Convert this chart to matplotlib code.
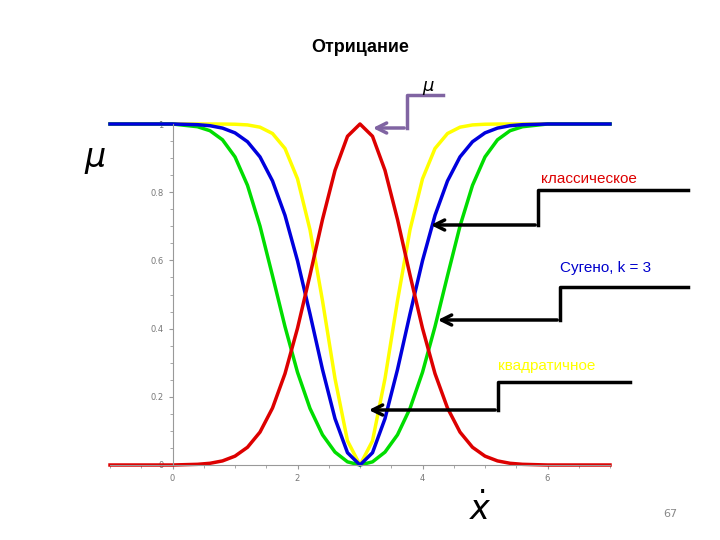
import numpy as np
import matplotlib.pyplot as plt
from matplotlib.patches import FancyArrowPatch

# distance from centre (x=3) and membership of the original fuzzy set (red)
d = [0.0,0.2,0.4,0.6,0.8,1.0,1.2,1.4,1.6,1.8,2.0,2.2,2.4,2.6,2.8,3.0,3.2,3.4,3.6,3.8,4.0]
mu = [1.0,0.964,0.864,0.720,0.557,0.401,0.268,0.167,0.0965,0.052,0.026,0.012,0.005,0.002,0.001,0.0,0.0,0.0,0.0,0.0,0.0]
center = 3.0
k = 3
xticks = [0, 2, 4, 6]
yticks = [0, 0.2, 0.4, 0.6, 0.8, 1]

x = np.concatenate([center - np.array(d[::-1]), center + np.array(d[1:])])
m = np.concatenate([np.array(mu[::-1]), np.array(mu[1:])])
classic = 1 - m
sugeno = (1 - m) / (1 + k * m)
quad = 1 - m ** 2

fig = plt.figure(figsize=(7.2, 5.4), dpi=100)
ax = fig.add_axes([110/720, 1-465/540, 500/720, (465-124)/540])
ax.set_xlim(-1, 7)
ax.set_ylim(0, 1)
kw = dict(lw=2.5, clip_on=False, solid_joinstyle='round')
ax.plot(x, quad, color='#ffff00', **kw)
ax.plot(x, sugeno, color='#00dd00', **kw)
ax.plot(x, classic, color='#0000dd', **kw)
ax.plot(x, m, color='#dd0000', **kw)
for s in ['top', 'right']:
    ax.spines[s].set_visible(False)
ax.spines['left'].set_position(('data', 0))
for s in ['left', 'bottom']:
    ax.spines[s].set_color('#999999')
    ax.spines[s].set_linewidth(0.8)
ax.set_xticks(xticks)
ax.set_xticklabels(['0', '2', '4', '6'])
ax.set_yticks(yticks)
ax.set_yticklabels(['0', '0.2', '0.4', '0.6', '0.8', '1'])
ax.set_xticks(np.arange(-1, 7.01, 0.5), minor=True)
ax.set_yticks(np.arange(0, 1.001, 0.05), minor=True)
ax.tick_params(colors='#999999', labelsize=6, length=3, labelcolor='#777777')
ax.tick_params(which='minor', colors='#999999', length=2)
ax.patch.set_alpha(0)

ov = fig.add_axes([0, 0, 1, 1])
ov.set_xlim(0, 720); ov.set_ylim(540, 0); ov.axis('off')
ov.text(360, 48, 'Отрицание', ha='center', va='center', fontsize=13, fontweight='bold', family='Liberation Sans')
ov.text(428, 88, r'$\mu$', ha='center', va='center', fontsize=13)
ov.text(95, 160, r'$\mu$', ha='center', va='center', fontsize=24)
ov.text(480, 510, r'$\dot{x}$', ha='center', va='center', fontsize=24)
ov.text(670, 514, '67', ha='center', va='center', fontsize=8, color='#888888')
ov.text(541, 179, 'классическое', ha='left', va='center', fontsize=11, color='#dd0000', family='Liberation Sans')
ov.text(560, 268, 'Сугено, k = 3', ha='left', va='center', fontsize=11, color='#0000cc', family='Liberation Sans')
ov.text(498, 366, 'квадратичное', ha='left', va='center', fontsize=11, color='#ffff00', family='Liberation Sans')

def step(pts, color):
    xs, ys = zip(*pts[:-1])
    ov.plot(xs, ys, color=color, lw=2.5)
    ov.add_patch(FancyArrowPatch(pts[-2], pts[-1], arrowstyle='->', mutation_scale=18, color=color, lw=2.5))

step([(443, 95), (407, 95), (407, 128), (370, 128)], '#8064a2')
step([(688, 190), (538, 190), (538, 225), (428, 225)], 'black')
step([(688, 287), (560, 287), (560, 320), (435, 320)], 'black')
step([(630, 382), (498, 382), (498, 410), (366, 410)], 'black')

fig.savefig('out.png', dpi=100)
